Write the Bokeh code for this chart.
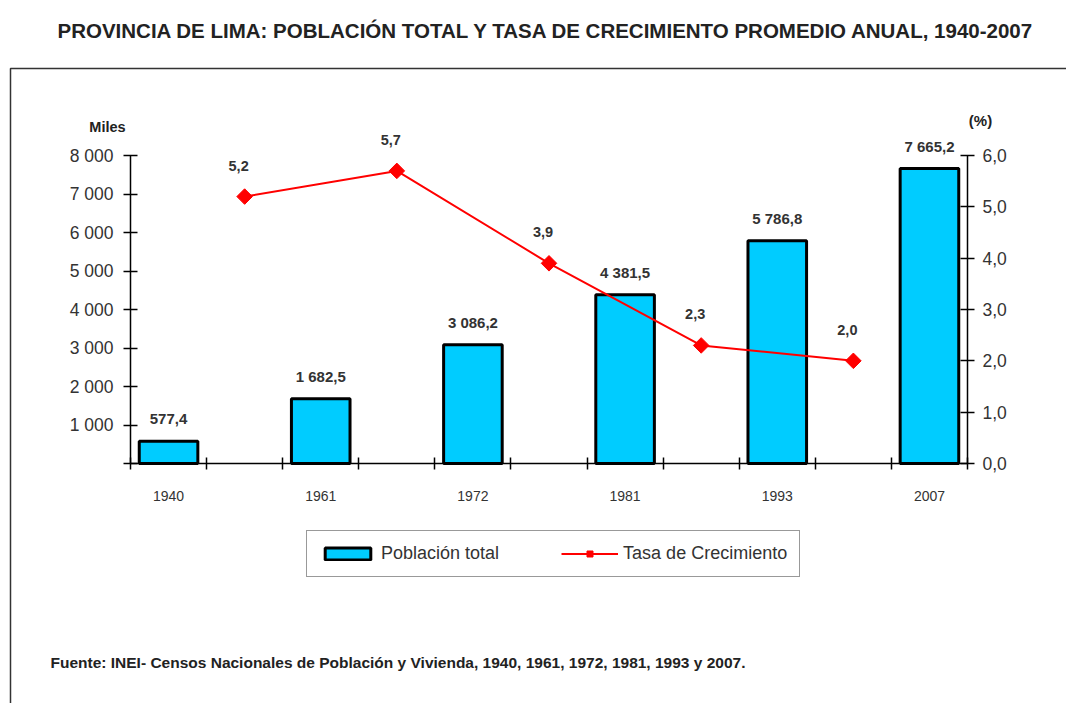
import numpy as np
from bokeh.plotting import figure
from bokeh.models import (Range1d, LinearAxis, FixedTicker, ColumnDataSource, Label,
                          BoxAnnotation, Legend, LegendItem)
from bokeh.core.properties import value
from bokeh.embed import file_html
from bokeh.resources import INLINE

# ---------------- data ----------------
years = ["1940", "1961", "1972", "1981", "1993", "2007"]
population = [577.4, 1682.5, 3086.2, 4381.5, 5786.8, 7665.2]
population_labels = ["577,4", "1 682,5", "3 086,2", "4 381,5", "5 786,8", "7 665,2"]
periods = ["1940-1961", "1961-1972", "1972-1981", "1981-1993", "1993-2007"]
growth_rate = [5.2, 5.7, 3.9, 2.3, 2.0]
growth_labels = ["5,2", "5,7", "3,9", "2,3", "2,0"]
left_ticks = [0, 1000, 2000, 3000, 4000, 5000, 6000, 7000, 8000]
left_tick_labels = ["", "1 000", "2 000", "3 000", "4 000", "5 000", "6 000", "7 000", "8 000"]
right_ticks = [0, 1, 2, 3, 4, 5, 6]
right_tick_labels = ["0,0", "1,0", "2,0", "3,0", "4,0", "5,0", "6,0"]
title_text = "PROVINCIA DE LIMA: POBLACIÓN TOTAL Y TASA DE CRECIMIENTO PROMEDIO ANUAL, 1940-2007"
source_text = "Fuente: INEI- Censos Nacionales de Población y Vivienda, 1940, 1961, 1972, 1981, 1993 y 2007."
left_unit = "Miles"
right_unit = "(%)"
legend_labels = ["Población total", "Tasa de Crecimiento"]

# ---------------- style / layout ----------------
FONT = "'Liberation Sans', Arial, sans-serif"
TXT = "#333333"
CYAN = "#00CCFF"
RED = "#FF0000"

W, H = 1066, 703
FL, FR, FT, FB = 130, 967, 155, 463   # plot-area edges, in canvas pixels
POP_MAX, PCT_MAX = 8000, 6

# category slots: census years alternate with the intercensal periods
slots = []
for i, y in enumerate(years):
    slots.append(y)
    if i < len(periods):
        slots.append(periods[i])
year_x = [slots.index(y) + 0.5 for y in years]
period_x = [slots.index(q) + 0.5 for q in periods]
slot_edges = list(range(len(slots) + 1))

# ranges chosen so the whole canvas is the frame and the chart area sits at FL..FR, FT..FB
xpx = (FR - FL) / len(slots)
x_rng = Range1d(-FL / xpx, (W - FL) / xpx)
ypx = (FB - FT) / POP_MAX
y_rng = Range1d(-(H - FB) / ypx, FB / ypx)
ppx = (FB - FT) / PCT_MAX
pct_rng = Range1d(-(H - FB) / ppx, FB / ppx)

p = figure(width=W, height=H, x_range=x_rng, y_range=y_rng,
           x_axis_location=None, y_axis_location=None,
           toolbar_location=None, output_backend="svg",
           min_border_left=0, min_border_right=0, min_border_top=0, min_border_bottom=0)
p.outline_line_color = None
p.background_fill_color = "white"
p.border_fill_color = "white"
for g in p.grid:
    g.visible = False
p.extra_y_ranges = {"pct": pct_rng}

# x axis: labels under the census years, ticks at slot boundaries
xa = LinearAxis(ticker=FixedTicker(ticks=year_x, minor_ticks=slot_edges),
                fixed_location=0, bounds=(0, len(slots)),
                major_label_overrides=dict(zip(year_x, years)),
                major_tick_line_color=None, major_tick_in=0, major_tick_out=0,
                minor_tick_in=6, minor_tick_out=6, minor_tick_line_width=1.5,
                minor_tick_line_color="black",
                axis_line_color="black", axis_line_width=1.5,
                major_label_standoff=21, major_label_text_font=FONT,
                major_label_text_font_size="14px", major_label_text_color=TXT)
p.add_layout(xa, "below")

yl = LinearAxis(ticker=FixedTicker(ticks=left_ticks), fixed_location=0,
                bounds=(0, POP_MAX),
                major_label_overrides=dict(zip(left_ticks, left_tick_labels)),
                major_tick_in=7, major_tick_out=7, minor_tick_line_color=None,
                axis_line_width=1.5, major_tick_line_width=1.5,
                major_label_standoff=10, major_label_text_font=FONT,
                major_label_text_font_size="17.5px", major_label_text_color=TXT)
p.add_layout(yl, "left")
yr = LinearAxis(y_range_name="pct", ticker=FixedTicker(ticks=right_ticks),
                fixed_location=len(slots), bounds=(0, PCT_MAX),
                major_label_overrides=dict(zip(right_ticks, right_tick_labels)),
                major_tick_in=7, major_tick_out=7, minor_tick_line_color=None,
                axis_line_width=1.5, major_tick_line_width=1.5,
                major_label_standoff=8, major_label_text_font=FONT,
                major_label_text_font_size="17.5px", major_label_text_color=TXT)
p.add_layout(yr, "right")

# bars
bsrc = ColumnDataSource(dict(x=year_x, top=population, lab=population_labels))
bars = p.vbar(x="x", top="top", bottom=0, width=0.77, source=bsrc, fill_color=CYAN,
              line_color="black", line_width=3)
p.text(x="x", y="top", text="lab", source=bsrc, text_align="center",
       text_baseline="middle", y_offset=-22, text_font=value(FONT),
       text_font_size="15px", text_font_style="bold", text_color=TXT)

# growth line
lsrc = ColumnDataSource(dict(x=period_x, y=growth_rate, lab=growth_labels))
ln = p.line(x="x", y="y", source=lsrc, y_range_name="pct", line_color=RED, line_width=2)
mk = p.scatter(x="x", y="y", source=lsrc, y_range_name="pct", marker="square",
               angle=np.pi / 4, size=11, fill_color=RED, line_color=RED)
p.text(x="x", y="y", text="lab", source=lsrc, y_range_name="pct", text_align="center",
       text_baseline="middle", y_offset=-31, x_offset=-6, text_font=value(FONT),
       text_font_size="14.5px", text_font_style="bold", text_color=TXT)

# screen helpers (canvas pixels from top-left -> screen units from bottom-left)
def sx(px):
    return px

def sy(py):
    return H - py

def add_text(txt, px, py, size, align="center", color="#222222", style="bold"):
    p.add_layout(Label(x=sx(px), y=sy(py), x_units="screen", y_units="screen", text=txt,
                       text_align=align, text_baseline="middle", text_font=FONT,
                       text_font_size=size, text_font_style=style, text_color=color))

add_text(title_text, 546, 30, "20.5px")
add_text(source_text, 50, 662, "15.5px", align="left")
add_text(left_unit, 107, 126, "14.5px")
add_text(right_unit, 980, 120, "15px")

p.add_layout(BoxAnnotation(left=sx(10), right=sx(W + 50), top=sy(68), bottom=sy(H + 50),
                           left_units="screen", right_units="screen", top_units="screen",
                           bottom_units="screen", fill_alpha=0, fill_color=None,
                           line_color="#333333", line_alpha=1.0, line_width=1.5))

legend = Legend(items=[LegendItem(label=legend_labels[0], renderers=[bars]),
                       LegendItem(label=legend_labels[1], renderers=[ln, mk])],
                location=(sx(306), sy(577)), orientation="horizontal",
                border_line_color="#333333", border_line_width=1.5,
                padding=12, spacing=62, margin=0, glyph_width=57, glyph_height=15,
                label_standoff=5, label_text_font=FONT, label_text_font_size="18px",
                label_text_color=TXT, background_fill_color="white")
p.add_layout(legend, "center")

open("out.html", "w").write(file_html(p, INLINE))
